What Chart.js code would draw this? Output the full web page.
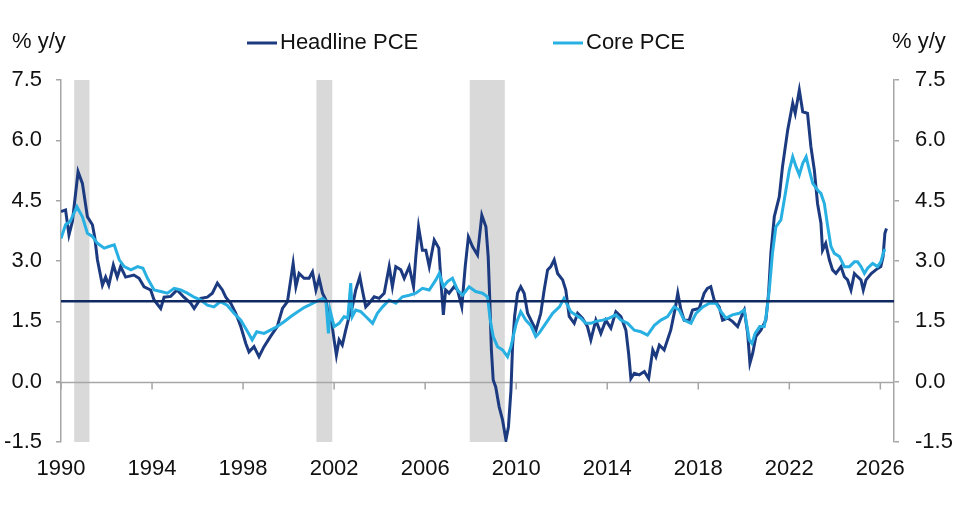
<!DOCTYPE html>
<html>
<head>
<meta charset="utf-8">
<script src="https://cdn.jsdelivr.net/npm/chart.js@4.4.1/dist/chart.umd.min.js"></script>
<style>
  html, body { margin: 0; padding: 0; background: #ffffff; }
  #wrap { width: 964px; height: 511px; position: relative; }
</style>
</head>
<body>
<div id="wrap"><canvas id="pceChart" width="964" height="511"></canvas></div>
<script>
// Headline PCE, % y/y (dates as decimal years)
const headlineYears = [
  1990.00, 1990.20, 1990.35, 1990.50, 1990.75, 1990.94, 1991.16, 1991.38, 1991.48, 1991.60,
  1991.82, 1991.96, 1992.10, 1992.30, 1992.47, 1992.62, 1992.84, 1993.20, 1993.43, 1993.65,
  1993.94, 1994.09, 1994.38, 1994.53, 1994.82, 1995.10, 1995.40, 1995.70, 1995.85, 1996.14,
  1996.43, 1996.65, 1996.87, 1997.09, 1997.24, 1997.46, 1997.68, 1997.90, 1998.12, 1998.26,
  1998.48, 1998.70, 1998.92, 1999.20, 1999.50, 1999.73, 1999.95, 2000.20, 2000.32, 2000.46,
  2000.68, 2000.90, 2001.05, 2001.20, 2001.34, 2001.49, 2001.64, 2001.78, 2001.90, 2002.00,
  2002.10, 2002.22, 2002.36, 2002.51, 2002.66, 2002.80, 2002.95, 2003.13, 2003.24, 2003.39,
  2003.54, 2003.76, 2003.98, 2004.20, 2004.42, 2004.56, 2004.71, 2004.93, 2005.08, 2005.30,
  2005.49, 2005.59, 2005.71, 2005.88, 2006.03, 2006.18, 2006.40, 2006.60, 2006.70, 2006.80,
  2006.90, 2007.05, 2007.27, 2007.42, 2007.61, 2007.76, 2007.90, 2008.08, 2008.30, 2008.49,
  2008.67, 2008.77, 2008.84, 2008.91, 2008.99, 2009.10, 2009.25, 2009.40, 2009.55, 2009.66,
  2009.77, 2009.84, 2009.93, 2010.06, 2010.20, 2010.35, 2010.50, 2010.72, 2010.87, 2011.08,
  2011.23, 2011.38, 2011.52, 2011.67, 2011.82, 2012.04, 2012.18, 2012.33, 2012.55, 2012.70,
  2012.91, 2013.13, 2013.28, 2013.50, 2013.72, 2013.94, 2014.16, 2014.38, 2014.60, 2014.82,
  2014.94, 2015.04, 2015.19, 2015.41, 2015.63, 2015.82, 2016.00, 2016.14, 2016.29, 2016.50,
  2016.79, 2017.00, 2017.10, 2017.24, 2017.38, 2017.60, 2017.75, 2018.04, 2018.26, 2018.40,
  2018.55, 2018.70, 2018.92, 2019.07, 2019.29, 2019.50, 2019.73, 2019.95, 2020.02, 2020.17,
  2020.27, 2020.39, 2020.53, 2020.75, 2020.97, 2021.09, 2021.19, 2021.34, 2021.56, 2021.70,
  2021.93, 2022.15, 2022.26, 2022.44, 2022.59, 2022.80, 2022.95, 2023.10, 2023.24, 2023.39,
  2023.46, 2023.60, 2023.76, 2023.90, 2024.05, 2024.27, 2024.42, 2024.56, 2024.71, 2024.86,
  2025.00, 2025.15, 2025.25, 2025.37, 2025.60, 2025.80, 2026.02, 2026.12, 2026.20, 2026.27
];
const headlineValues = [
  4.23, 4.27, 3.65, 3.98, 5.22, 4.93, 4.10, 3.90, 3.60, 3.03,
  2.40, 2.60, 2.40, 2.90, 2.60, 2.86, 2.60, 2.65, 2.57, 2.36,
  2.28, 2.03, 1.82, 2.10, 2.12, 2.28, 2.10, 1.95, 1.82, 2.07,
  2.10, 2.20, 2.45, 2.28, 2.10, 1.95, 1.70, 1.37, 0.95, 0.74,
  0.87, 0.62, 0.87, 1.12, 1.37, 1.82, 1.99, 2.94, 2.36, 2.69,
  2.57, 2.57, 2.73, 2.28, 2.57, 2.20, 2.03, 1.53, 1.45, 1.04,
  0.66, 1.04, 0.91, 1.28, 1.62, 1.86, 2.28, 2.61, 2.28, 1.86,
  1.95, 2.11, 2.07, 2.20, 2.86, 2.36, 2.86, 2.78, 2.57, 2.86,
  2.36, 3.11, 3.85, 3.27, 3.27, 2.86, 3.52, 3.32, 2.45, 1.66,
  2.28, 2.20, 2.36, 2.28, 1.86, 2.86, 3.60, 3.36, 3.15, 4.14,
  3.85, 3.11, 2.03, 0.79, 0.04, -0.13, -0.62, -0.95, -1.45, -1.12,
  -0.21, 0.87, 1.62, 2.20, 2.36, 2.20, 1.70, 1.45, 1.28, 1.70,
  2.28, 2.78, 2.86, 3.03, 2.69, 2.53, 2.28, 1.62, 1.45, 1.70,
  1.58, 1.37, 1.04, 1.53, 1.20, 1.53, 1.33, 1.74, 1.62, 1.28,
  0.70, 0.08, 0.21, 0.17, 0.25, 0.08, 0.79, 0.62, 0.91, 0.79,
  1.28, 1.86, 2.20, 1.78, 1.53, 1.53, 1.78, 1.82, 2.20, 2.32,
  2.36, 2.03, 1.86, 1.53, 1.58, 1.50, 1.37, 1.70, 1.78, 1.20,
  0.46, 0.70, 1.12, 1.28, 1.53, 2.20, 3.19, 4.10, 4.60, 5.34,
  6.26, 6.92, 6.67, 7.25, 6.71, 6.67, 5.84, 5.26, 4.43, 3.94,
  3.27, 3.44, 3.03, 2.78, 2.69, 2.86, 2.61, 2.53, 2.28, 2.69,
  2.61, 2.53, 2.28, 2.53, 2.69, 2.78, 2.86, 3.11, 3.69, 3.81
];

// Core PCE, % y/y
const coreYears = [
  1990.00, 1990.20, 1990.40, 1990.70, 1990.94, 1991.16, 1991.38, 1991.60, 1991.90, 1992.10,
  1992.34, 1992.56, 1992.78, 1993.07, 1993.37, 1993.60, 1993.80, 1994.09, 1994.38, 1994.68,
  1994.97, 1995.26, 1995.55, 1995.85, 1996.14, 1996.43, 1996.72, 1997.00, 1997.30, 1997.60,
  1997.90, 1998.20, 1998.40, 1998.60, 1998.92, 1999.20, 1999.50, 1999.80, 2000.10, 2000.40,
  2000.70, 2000.90, 2001.20, 2001.49, 2001.64, 2001.75, 2001.82, 2002.00, 2002.22, 2002.44,
  2002.60, 2002.73, 2002.80, 2002.95, 2003.17, 2003.39, 2003.69, 2003.90, 2004.13, 2004.42,
  2004.71, 2005.00, 2005.30, 2005.59, 2005.88, 2006.18, 2006.47, 2006.62, 2006.80, 2006.98,
  2007.20, 2007.42, 2007.64, 2007.93, 2008.22, 2008.52, 2008.74, 2008.86, 2008.99, 2009.18,
  2009.40, 2009.62, 2009.77, 2010.00, 2010.20, 2010.42, 2010.64, 2010.86, 2011.00, 2011.30,
  2011.60, 2011.90, 2012.10, 2012.40, 2012.62, 2012.84, 2013.06, 2013.28, 2013.50, 2013.80,
  2014.09, 2014.38, 2014.60, 2014.90, 2015.19, 2015.48, 2015.77, 2016.07, 2016.36, 2016.65,
  2016.94, 2017.16, 2017.38, 2017.68, 2017.90, 2018.20, 2018.49, 2018.78, 2019.00, 2019.22,
  2019.50, 2019.80, 2020.02, 2020.24, 2020.36, 2020.50, 2020.70, 2020.90, 2021.00, 2021.12,
  2021.26, 2021.41, 2021.63, 2021.85, 2022.00, 2022.15, 2022.30, 2022.44, 2022.59, 2022.74,
  2022.88, 2023.03, 2023.25, 2023.39, 2023.54, 2023.69, 2023.83, 2023.98, 2024.20, 2024.42,
  2024.64, 2024.86, 2025.00, 2025.15, 2025.30, 2025.44, 2025.66, 2025.88, 2026.02, 2026.17,
  2026.24
];
const coreValues = [
  3.56, 3.90, 3.98, 4.35, 4.10, 3.69, 3.61, 3.44, 3.32, 3.36,
  3.40, 3.03, 2.86, 2.78, 2.86, 2.82, 2.57, 2.28, 2.24, 2.20,
  2.32, 2.28, 2.20, 2.10, 2.03, 1.90, 1.86, 1.99, 1.90, 1.70,
  1.53, 1.24, 1.04, 1.24, 1.20, 1.28, 1.37, 1.49, 1.62, 1.74,
  1.85, 1.90, 1.99, 2.07, 2.00, 1.20, 1.78, 1.37, 1.45, 1.62,
  1.58, 2.45, 1.62, 1.78, 1.74, 1.62, 1.45, 1.70, 1.86, 2.03,
  1.95, 2.11, 2.15, 2.20, 2.32, 2.28, 2.53, 2.69, 2.36, 2.49,
  2.57, 2.28, 2.15, 2.36, 2.24, 2.20, 2.11, 1.53, 1.12, 0.87,
  0.79, 0.62, 0.87, 1.45, 1.74, 1.53, 1.40, 1.12, 1.20, 1.45,
  1.70, 1.86, 2.07, 1.74, 1.66, 1.58, 1.45, 1.45, 1.50, 1.53,
  1.58, 1.66, 1.53, 1.45, 1.28, 1.24, 1.16, 1.40, 1.53, 1.62,
  1.86, 1.78, 1.53, 1.45, 1.70, 1.86, 1.95, 1.95, 1.74, 1.58,
  1.66, 1.70, 1.78, 1.04, 0.95, 1.20, 1.37, 1.37, 1.70, 2.28,
  3.19, 3.85, 4.02, 4.76, 5.26, 5.59, 5.34, 5.14, 5.43, 5.59,
  5.26, 4.93, 4.76, 4.68, 4.43, 3.85, 3.36, 3.19, 3.11, 2.86,
  2.86, 2.98, 2.98, 2.86, 2.69, 2.82, 2.94, 2.86, 2.98, 3.27,
  3.27
];

// 2% inflation target
const targetValue = 2.0;

// US recessions (shaded), decimal years
const recessionStarts = [1990.58, 2001.22, 2007.96];
const recessionEnds = [1991.25, 2001.92, 2009.50];

// Axes
const yearTicks = [1990, 1994, 1998, 2002, 2006, 2010, 2014, 2018, 2022, 2026];
const xMin = 1990;
const xMax = 2026.6;
const yMin = -1.5;
const yMax = 7.5;
const yStep = 1.5;

const NAVY = "#1c3a80";
const CYAN = "#29b0e2";
const AXIS_GREY = "#a6a6a6";
const SHADE = "#d9d9d9";
const FONT = "'Liberation Sans', Arial, sans-serif";

const toPoints = (xs, ys) => xs.map((x, i) => ({ x: x, y: ys[i] }));

// Shading, zero line, titles and legend
const decorPlugin = {
  id: "decor",
  beforeDatasetsDraw(chart) {
    const { ctx, chartArea, scales } = chart;
    const xs = scales.x;
    const ys = scales.y;

    ctx.save();
    ctx.fillStyle = SHADE;
    recessionStarts.forEach((start, i) => {
      const x0 = xs.getPixelForValue(start);
      const x1 = xs.getPixelForValue(recessionEnds[i]);
      ctx.fillRect(x0, chartArea.top, x1 - x0, chartArea.bottom - chartArea.top);
    });

    // zero line with tick marks
    const y0 = Math.round(ys.getPixelForValue(0)) + 0.5;
    ctx.strokeStyle = AXIS_GREY;
    ctx.lineWidth = 1.5;
    ctx.beginPath();
    ctx.moveTo(chartArea.left - 5, y0);
    ctx.lineTo(chartArea.right, y0);
    yearTicks.forEach((yr) => {
      const x = xs.getPixelForValue(yr);
      ctx.moveTo(x, y0);
      ctx.lineTo(x, y0 + 7);
    });
    ctx.stroke();
    ctx.restore();
  },
  afterDraw(chart) {
    const { ctx } = chart;
    ctx.save();
    ctx.font = "22px " + FONT;
    ctx.fillStyle = "#111111";
    ctx.textBaseline = "middle";

    // axis titles
    ctx.textAlign = "left";
    ctx.fillText("% y/y", 12, 42);
    ctx.fillText("% y/y", 892, 42);

    // legend
    const items = [
      { label: "Headline PCE", color: NAVY, x: 247 },
      { label: "Core PCE", color: CYAN, x: 553 },
    ];
    items.forEach((item) => {
      ctx.strokeStyle = item.color;
      ctx.lineWidth = 3;
      ctx.beginPath();
      ctx.moveTo(item.x, 43);
      ctx.lineTo(item.x + 30, 43);
      ctx.stroke();
      ctx.fillText(item.label, item.x + 33, 43);
    });
    ctx.restore();
  },
};

const yAxis = (position, width, padding) => ({
  type: "linear",
  position: position,
  min: yMin,
  max: yMax,
  afterFit: (scale) => {
    scale.width = width;
  },
  ticks: {
    stepSize: yStep,
    padding: padding,
    color: "#111111",
    font: { family: FONT, size: 22 },
    callback: (v) => Number(v).toFixed(1),
  },
  grid: {
    drawOnChartArea: false,
    drawTicks: true,
    tickLength: 5,
    color: AXIS_GREY,
    lineWidth: 1.5,
  },
  border: { display: true, color: AXIS_GREY, width: 1.5 },
});

new Chart(document.getElementById("pceChart"), {
  type: "line",
  data: {
    datasets: [
      {
        label: "2% target",
        data: [
          { x: xMin, y: targetValue },
          { x: xMax, y: targetValue },
        ],
        borderColor: "#0f2a63",
        borderWidth: 2.5,
        pointRadius: 0,
        order: 0,
      },
      {
        label: "Core PCE",
        data: toPoints(coreYears, coreValues),
        borderColor: CYAN,
        borderWidth: 3,
        pointRadius: 0,
        tension: 0,
        order: 1,
      },
      {
        label: "Headline PCE",
        data: toPoints(headlineYears, headlineValues),
        borderColor: NAVY,
        borderWidth: 3,
        pointRadius: 0,
        tension: 0,
        order: 2,
      },
    ],
  },
  options: {
    responsive: false,
    animation: false,
    devicePixelRatio: 1,
    layout: { padding: { top: 80, left: 0, right: 0, bottom: 0 } },
    plugins: {
      legend: { display: false },
      tooltip: { enabled: false },
    },
    scales: {
      x: {
        type: "linear",
        position: "bottom",
        min: xMin,
        max: xMax,
        afterBuildTicks: (axis) => {
          axis.ticks = yearTicks.map((v) => ({ value: v }));
        },
        afterFit: (scale) => {
          scale.height = 69;
        },
        ticks: {
          padding: 14,
          maxRotation: 0,
          autoSkip: false,
          color: "#111111",
          font: { family: FONT, size: 22 },
          callback: (v) => String(v),
        },
        grid: { display: false, drawTicks: false },
        border: { display: false },
      },
      y: yAxis("left", 61, 14),
      y2: yAxis("right", 70, 16),
    },
  },
  plugins: [decorPlugin],
});
</script>
</body>
</html>
